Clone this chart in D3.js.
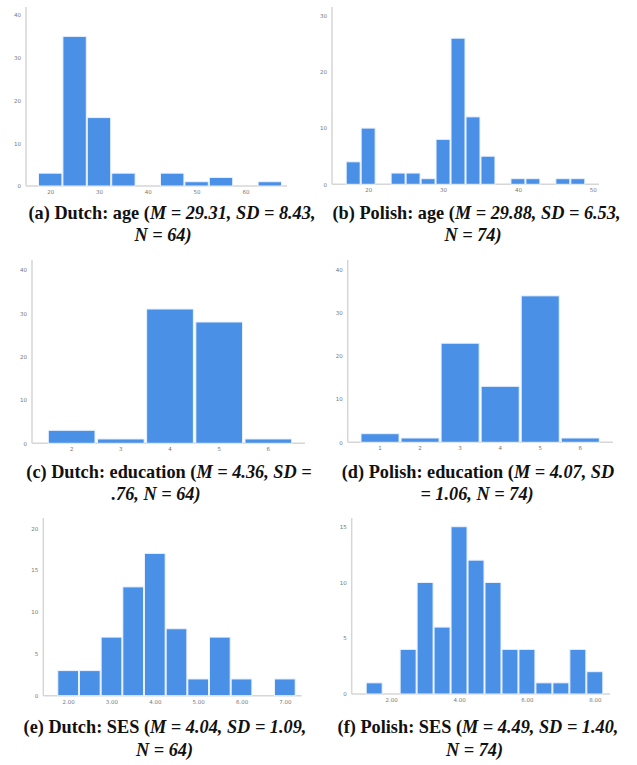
<!DOCTYPE html>
<html><head><meta charset="utf-8">
<script src="https://cdn.jsdelivr.net/npm/d3@7"></script>
<style>
html,body{margin:0;padding:0;background:#fff;}
svg{display:block;}
.tick text{fill:#777;font-family:"DejaVu Sans",sans-serif;font-size:5.5px;}
.cap{font-family:"Liberation Serif",serif;font-size:18.3px;font-weight:bold;fill:#111;}
</style></head>
<body>
<svg id="c" width="637" height="765"></svg>
<script>
// ---- data ----
const ageDutchCenters = [20,25,30,35,40,45,50,55,60,65];
const ageDutchCounts  = [3,35,16,3,0,3,1,2,0,1];
const ageDutchXTicks  = [20,30,40,50,60];
const ageDutchYTicks  = [0,10,20,30,40];

const agePolishCenters = [18,20,22,24,26,28,30,32,34,36,38,40,42,44,46,48];
const agePolishCounts  = [4,10,0,2,2,1,8,26,12,5,0,1,1,0,1,1];
const agePolishXTicks  = [20,30,40,50];
const agePolishYTicks  = [0,10,20,30];

const eduDutchCats   = [2,3,4,5,6];
const eduDutchCounts = [3,1,31,28,1];
const eduDutchYTicks = [0,10,20,30,40];

const eduPolishCats   = [1,2,3,4,5,6];
const eduPolishCounts = [2,1,23,13,34,1];
const eduPolishYTicks = [0,10,20,30,40];

const sesDutchCenters = [2.0,2.5,3.0,3.5,4.0,4.5,5.0,5.5,6.0,6.5,7.0];
const sesDutchCounts  = [3,3,7,13,17,8,2,7,2,0,2];
const sesDutchXTicks  = [2,3,4,5,6,7];
const sesDutchYTicks  = [0,5,10,15,20];

const sesPolishCenters = [1.5,2.0,2.5,3.0,3.5,4.0,4.5,5.0,5.5,6.0,6.5,7.0,7.5,8.0];
const sesPolishCounts  = [1,0,4,10,6,15,12,10,4,4,1,1,4,2];
const sesPolishXTicks  = [2,4,6,8];
const sesPolishYTicks  = [0,5,10,15];

const captions = [
  {a:"(a) Dutch: age (", b:"M = 29.31, SD = 8.43,", l2:"N = 64)"},
  {a:"(b) Polish: age (", b:"M = 29.88, SD = 6.53,", l2:"N = 74)"},
  {a:"(c) Dutch: education (", b:"M = 4.36, SD =", l2:".76, N = 64)"},
  {a:"(d) Polish: education (", b:"M = 4.07, SD", l2:"= 1.06, N = 74)"},
  {a:"(e) Dutch: SES (", b:"M = 4.04, SD = 1.09,", l2:"N = 64)"},
  {a:"(f) Polish: SES (", b:"M = 4.49, SD = 1.40,", l2:"N = 74)"}
];

// ---- layout ----
const svg = d3.select("#c");
const BAR = "#4a90e6", AXIS = "#d6d6d6";

function frame(g, L, y, yTicks){
  g.append("line").attr("x1",L.ax).attr("x2",L.ax).attr("y1",L.top).attr("y2",L.base)
    .attr("stroke",AXIS).attr("stroke-width",1.5);
  g.append("line").attr("x1",L.ax).attr("x2",L.end).attr("y1",L.base).attr("y2",L.base)
    .attr("stroke",AXIS).attr("stroke-width",1.5);
  const ya = g.append("g").attr("transform",`translate(${L.ax-3},0)`)
    .call(d3.axisLeft(y).tickValues(yTicks).tickSize(0).tickPadding(2));
  ya.select(".domain").remove();
}

function histPanel(L, centers, counts, xTicks, yTicks, fmt){
  const g = svg.append("g");
  const w = centers[1]-centers[0];
  const x = d3.scaleLinear().domain([centers[0]-w/2, centers[centers.length-1]+w/2]).range([L.x0,L.x1]);
  const y = d3.scaleLinear().domain([0,yTicks[yTicks.length-1]]).range([L.base,L.ytop]);
  frame(g,L,y,yTicks);
  g.selectAll("rect").data(centers.map((c,i)=>({c,n:counts[i]})).filter(d=>d.n>0)).join("rect")
    .attr("x",d=>x(d.c-w/2)+0.5).attr("width",d=>x(d.c+w/2)-x(d.c-w/2)-1)
    .attr("y",d=>y(d.n)).attr("height",d=>y(0)-y(d.n))
    .attr("fill",BAR).attr("stroke","#eaf2fd").attr("stroke-width",1);
  const xa = g.append("g").attr("transform",`translate(0,${L.base+2})`)
    .call(d3.axisBottom(x).tickValues(xTicks).tickSize(0).tickPadding(2).tickFormat(fmt||d3.format("d")));
  xa.select(".domain").remove();
}

function catPanel(L, cats, counts, yTicks){
  const g = svg.append("g");
  const x = d3.scaleBand().domain(cats).range([L.x0,L.x1]).paddingInner(0.05).paddingOuter(0.0);
  const y = d3.scaleLinear().domain([0,yTicks[yTicks.length-1]]).range([L.base,L.ytop]);
  frame(g,L,y,yTicks);
  g.selectAll("rect").data(cats.map((c,i)=>({c,n:counts[i]}))).join("rect")
    .attr("x",d=>x(d.c)).attr("width",x.bandwidth())
    .attr("y",d=>y(d.n)).attr("height",d=>y(0)-y(d.n))
    .attr("fill",BAR).attr("stroke","#eaf2fd").attr("stroke-width",1);
  const xa = g.append("g").attr("transform",`translate(0,${L.base+2})`)
    .call(d3.axisBottom(x).tickSize(0).tickPadding(2));
  xa.select(".domain").remove();
}

histPanel({ax:26,top:7,base:186,ytop:15,end:287,x0:38,x1:282}, ageDutchCenters, ageDutchCounts, ageDutchXTicks, ageDutchYTicks);
histPanel({ax:332,top:7,base:184.3,ytop:15.7,end:599,x0:345.7,x1:585.3}, agePolishCenters, agePolishCounts, agePolishXTicks, agePolishYTicks);
catPanel({ax:32,top:260,base:443.3,ytop:270,end:305,x0:48.3,x1:291.7}, eduDutchCats, eduDutchCounts, eduDutchYTicks);
catPanel({ax:347.7,top:260,base:442.3,ytop:270,end:613,x0:361,x1:599.3}, eduPolishCats, eduPolishCounts, eduPolishYTicks);
histPanel({ax:43.3,top:518,base:695.7,ytop:528.3,end:301.7,x0:57.3,x1:295.7}, sesDutchCenters, sesDutchCounts, sesDutchXTicks, sesDutchYTicks, d3.format(".2f"));
histPanel({ax:351.7,top:518,base:694,ytop:526.7,end:610,x0:365.7,x1:603.3}, sesPolishCenters, sesPolishCounts, sesPolishXTicks, sesPolishYTicks, d3.format(".2f"));

// captions
const capPos = [
  {cx:172, cx2:163, y1:219, y2:241},
  {cx:476.5, cx2:473, y1:219, y2:241},
  {cx:169, cx2:156, y1:478, y2:500},
  {cx:478, cx2:477, y1:478, y2:500},
  {cx:165, cx2:164.5, y1:733, y2:756},
  {cx:478, cx2:474.5, y1:733, y2:756}
];
captions.forEach((c,i)=>{
  const p = capPos[i];
  const t1 = svg.append("text").attr("class","cap").attr("x",p.cx).attr("y",p.y1).attr("text-anchor","middle");
  t1.append("tspan").text(c.a);
  t1.append("tspan").attr("font-style","italic").text(c.b);
  svg.append("text").attr("class","cap").attr("x",p.cx2).attr("y",p.y2).attr("text-anchor","middle")
    .attr("font-style","italic").text(c.l2);
});
</script>
</body></html>
